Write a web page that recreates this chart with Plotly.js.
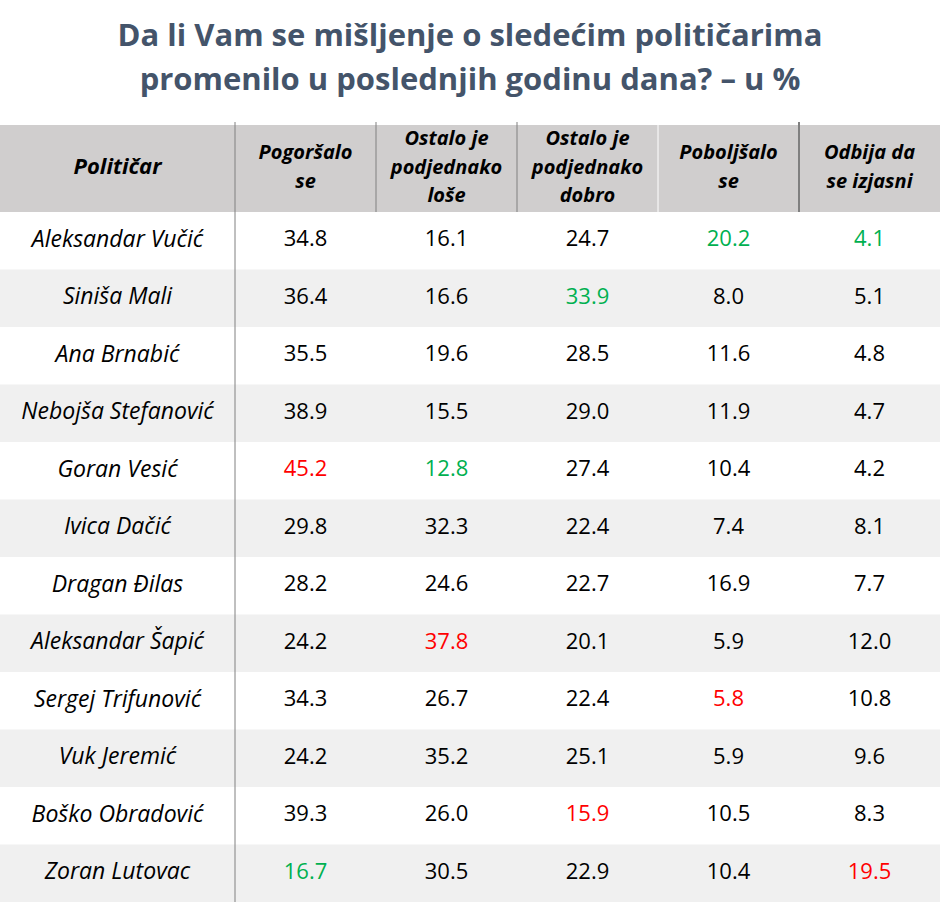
<!DOCTYPE html>
<html>
<head>
<meta charset="utf-8">
<script src="https://cdn.plot.ly/plotly-3.0.1.min.js"></script>
<style>body{margin:0;background:#fff}#chart{width:940px;height:902px}</style>
</head>
<body>
<div id="chart"></div>
<script>
// ---- data ----
const politicians = ['Aleksandar Vučić','Siniša Mali','Ana Brnabić','Nebojša Stefanović','Goran Vesić','Ivica Dačić','Dragan Đilas','Aleksandar Šapić','Sergej Trifunović','Vuk Jeremić','Boško Obradović','Zoran Lutovac'];
const pogorsalo   = [34.8,36.4,35.5,38.9,45.2,29.8,28.2,24.2,34.3,24.2,39.3,16.7];
const ostaloLose  = [16.1,16.6,19.6,15.5,12.8,32.3,24.6,37.8,26.7,35.2,26.0,30.5];
const ostaloDobro = [24.7,33.9,28.5,29.0,27.4,22.4,22.7,20.1,22.4,25.1,15.9,22.9];
const poboljsalo  = [20.2,8.0,11.6,11.9,10.4,7.4,16.9,5.9,5.8,5.9,10.5,10.4];
const odbija      = [4.1,5.1,4.8,4.7,4.2,8.1,7.7,12.0,10.8,9.6,8.3,19.5];
const headerFirst = ['Političar'];
const headerLabels = [
  ['Pogoršalo', 'se'],
  ['Ostalo je', 'podjednako', 'loše'],
  ['Ostalo je', 'podjednako', 'dobro'],
  ['Poboljšalo', 'se'],
  ['Odbija da', 'se izjasni']
];
// true = higher value is "bad" (max red, min green)
const higherIsBad = [true, true, false, false, true];
const titleLines = ['Da li Vam se mišljenje o sledećim političarima', 'promenilo u poslednjih godinu dana? – u %'];

// ---- layout constants (pixels) ----
const W = 940, H = 902;
const colEdges = [0, 235, 376, 517, 658, 799, 940];
const headerTop = 125, headerBottom = 212, tableBottom = 902;
const FONT = '"Open Sans", "Noto Sans", sans-serif';
const GREEN = '#00b050', RED = '#ff0000', BLACK = '#000000';
const HEAD_BG = '#d0cece', ALT_BG = '#f0f0f0', LINE = '#808080';

const centers = colEdges.slice(0, -1).map((e, i) => (e + colEdges[i + 1]) / 2);
const series = [pogorsalo, ostaloLose, ostaloDobro, poboljsalo, odbija];

function fontColors(vals, bad) {
  const mx = Math.max(...vals), mn = Math.min(...vals);
  return vals.map(v => v === mx ? (bad ? RED : GREEN) : v === mn ? (bad ? GREEN : RED) : BLACK);
}

const traces = [];
// name column
traces.push({
  type: 'scatter', mode: 'text', xaxis: 'x', yaxis: 'y',
  x: politicians.map(() => centers[0]), y: politicians,
  text: politicians, textposition: 'middle center', cliponaxis: false,
  textfont: {family: FONT, size: 23, color: BLACK, style: 'italic'},
  hoverinfo: 'skip'
});
// value columns
series.forEach((vals, k) => {
  traces.push({
    type: 'scatter', mode: 'text', xaxis: 'x', yaxis: 'y',
    x: vals.map(() => centers[k + 1]), y: politicians,
    text: vals.map(v => v.toFixed(1)), textposition: 'middle center', cliponaxis: false,
    textfont: {family: FONT, size: 22, color: fontColors(vals, higherIsBad[k])},
    hoverinfo: 'skip'
  });
});
// header text: each line is its own point, centred vertically around the header middle
function headerTrace(labelsList, colOffset, size) {
  const hx = [], hy = [], ht = [];
  labelsList.forEach((lines, c) => {
    lines.forEach((ln, j) => {
      hx.push(centers[c + colOffset]);
      hy.push(j - (lines.length - 1) / 2);
      ht.push(ln);
    });
  });
  return {
    type: 'scatter', mode: 'text', xaxis: 'x', yaxis: 'y2',
    x: hx, y: hy, text: ht, textposition: 'middle center', cliponaxis: false,
    textfont: {family: FONT, size: size, color: BLACK, weight: 'bold', style: 'italic'},
    hoverinfo: 'skip'
  };
}
traces.push(headerTrace([headerFirst], 0, 22));
traces.push(headerTrace(headerLabels, 1, 20));

// ---- shapes: backgrounds and rules ----
const shapes = [];
shapes.push({type: 'rect', layer: 'below', xref: 'paper', yref: 'y2 domain', x0: 0, x1: 1, y0: 0, y1: 1,
  fillcolor: HEAD_BG, line: {width: 0}});
politicians.forEach((p, i) => {
  if (i % 2 === 1) {
    shapes.push({type: 'rect', layer: 'below', xref: 'paper', yref: 'y', x0: 0, x1: 1, y0: i - 0.5, y1: i + 0.5,
      fillcolor: ALT_BG, line: {width: 0}});
  }
});
// main rule after the name column
shapes.push({type: 'line', xref: 'x', yref: 'paper', x0: colEdges[1], x1: colEdges[1], y0: 0, y1: (H - headerTop + 3) / H,
  line: {color: LINE, width: 1}});
// header rules
const headerRule = [null, null, LINE, LINE, '#ffffff', LINE];
const headerRuleW = [0, 0, 1, 1, 1, 2];
for (let c = 2; c < colEdges.length - 1; c++) {
  shapes.push({type: 'line', xref: 'x', yref: 'paper', x0: colEdges[c], x1: colEdges[c],
    y0: (H - headerBottom) / H, y1: (H - headerTop + 3) / H,
    line: {color: headerRule[c], width: headerRuleW[c]}});
}

const lineGap = 28.5;
const hdrHalf = (headerBottom - headerTop) / 2 / lineGap;

const layout = {
  width: W, height: H,
  margin: {l: 0, r: 0, t: 0, b: 0},
  paper_bgcolor: '#ffffff', plot_bgcolor: 'rgba(0,0,0,0)',
  showlegend: false, hovermode: false,
  xaxis: {range: [0, W], visible: false, fixedrange: true},
  yaxis: {type: 'category', categoryorder: 'array', categoryarray: politicians,
    range: [politicians.length - 0.5, -0.5], domain: [0, (H - headerBottom) / H], visible: false, fixedrange: true},
  yaxis2: {range: [hdrHalf, -hdrHalf], domain: [(H - headerBottom) / H, (H - headerTop) / H],
    visible: false, fixedrange: true},
  shapes: shapes,
  title: {
    text: '<b>' + titleLines.map(t => '<span style="font-size:31px">' + t + '</span>').join('<br>') + '</b>',
    x: 0.5, xanchor: 'center',
    y: 1 - 45.5 / H, yanchor: 'middle',
    font: {family: FONT, size: 34, color: '#44546a'}
  }
};

Plotly.newPlot('chart', traces, layout, {displayModeBar: false, staticPlot: true});
</script>
</body>
</html>
